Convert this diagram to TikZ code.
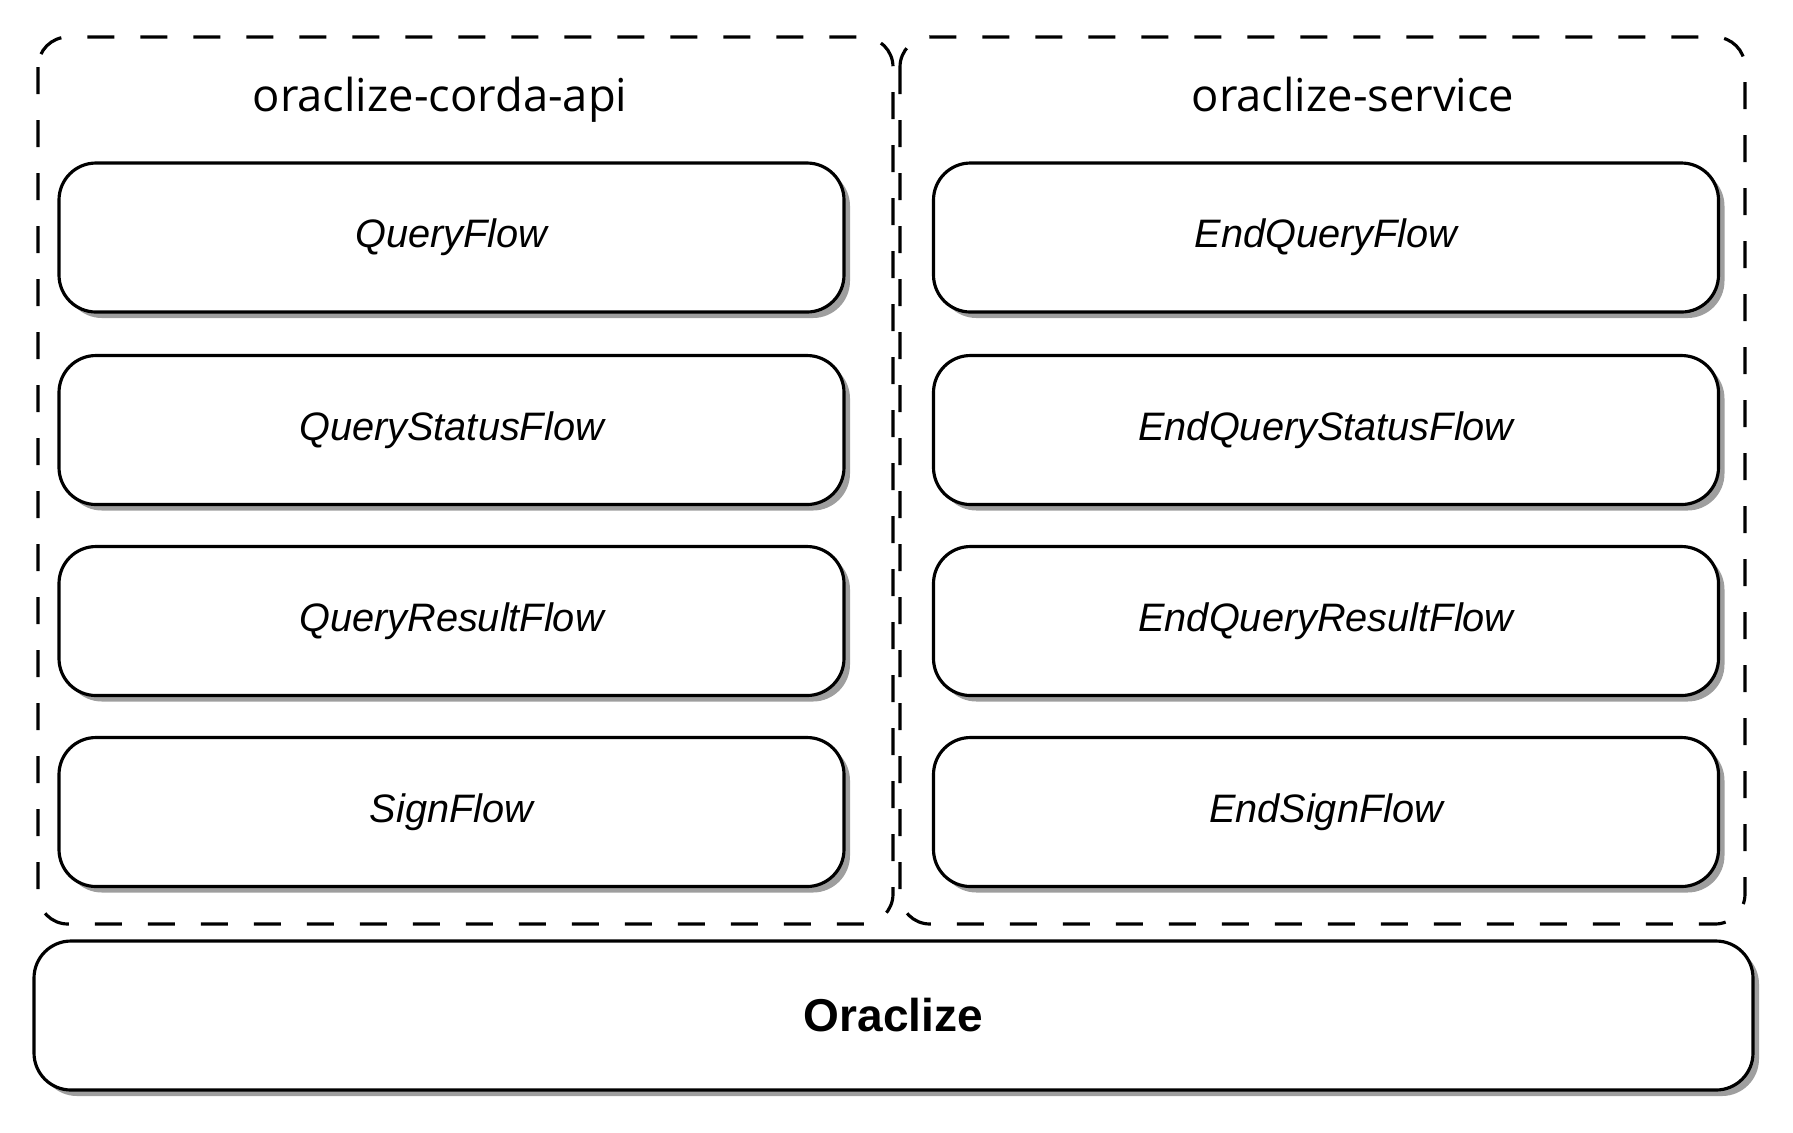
\documentclass[tikz,border=0pt]{standalone}
\usepackage{fontspec}
\setmainfont{Liberation Sans}
\newfontfamily\titlefont{Open Sans}
\usetikzlibrary{shadows}

\begin{document}
\begin{tikzpicture}[x=0.1mm, y=-0.1mm,
    flowbox/.style={draw, line width=0.9pt, rounded corners=3.7mm, fill=white,
        minimum width=78.5mm, minimum height=14.9mm,
        font=\fontsize{11.3}{13}\selectfont\itshape,
        general shadow={fill=black!38, shadow xshift=0.6mm, shadow yshift=-0.6mm}},
    basebox/.style={flowbox, minimum width=171.9mm, font=\fontsize{13.1}{15}\selectfont\bfseries},
    container/.style={line width=0.9pt, rounded corners=3mm, dash pattern=on 2.7mm off 2.6mm},
    title/.style={anchor=base, font=\titlefont\fontsize{12.9}{16}\selectfont}]
    \useasboundingbox (0, 0) rectangle (1793, 1132);
    % Modules
    \draw [container] (38, 37) rectangle (893, 924);
    \draw [container] (900, 37) rectangle (1745, 924);
    \node [title] (api) at (440, 111) {oraclize-corda-api};
    \node [title] (service) at (1353, 111) {oraclize-service};
    % Flows
    \node [flowbox] (query) at (451.5, 237.5) {QueryFlow};
    \node [flowbox] (status) at (451.5, 430) {QueryStatusFlow};
    \node [flowbox] (result) at (451.5, 621) {QueryResultFlow};
    \node [flowbox] (sign) at (451.5, 812) {SignFlow};
    \node [flowbox] (endquery) at (1326, 237.5) {EndQueryFlow};
    \node [flowbox] (endstatus) at (1326, 430) {EndQueryStatusFlow};
    \node [flowbox] (endresult) at (1326, 621) {EndQueryResultFlow};
    \node [flowbox] (endsign) at (1326, 812) {EndSignFlow};
    % Base
    \node [basebox] (oraclize) at (893.5, 1015.5) {Oraclize};
\end{tikzpicture}
\end{document}
